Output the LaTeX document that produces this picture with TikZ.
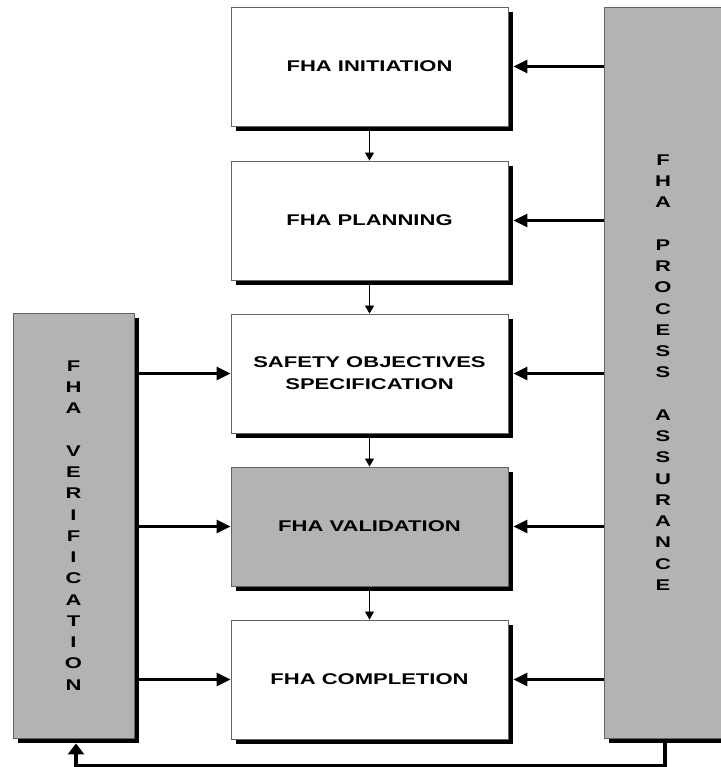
\documentclass[tikz,border=0pt]{standalone}
\usepackage{fontspec}
\setmainfont{Liberation Sans}[FakeStretch=1.42]
\usetikzlibrary{arrows.meta,shadows,calc}
\definecolor{boxgray}{RGB}{179,179,179}
\definecolor{edgegray}{RGB}{100,100,100}
\begin{document}
\begin{tikzpicture}[x=1pt,y=-1pt,
  txt/.style={font=\bfseries\fontsize{15.5}{22}\selectfont, align=center, text=black},
  procbox/.style={txt, draw=edgegray, line width=0.9pt, fill=white, minimum width=277pt, minimum height=119pt, inner sep=0pt,
     drop shadow={shadow xshift=5pt, shadow yshift=-5pt, fill=black, opacity=1}},
  sidebox/.style={txt, font=\bfseries\fontsize{15.5}{21.25}\selectfont, draw=edgegray, line width=0.9pt, fill=boxgray, inner sep=0pt,
     drop shadow={shadow xshift=5pt, shadow yshift=-5pt, fill=black, opacity=1}},
  smallarrow/.style={draw=black, line width=0.8pt, -{Triangle[length=8pt,width=9pt]}},
  bigarrow/.style={draw=black, line width=3pt, -{Triangle[length=14pt,width=13pt]}},
  fbarrow/.style={draw=black, line width=3.5pt, -{Triangle[length=11pt,width=16pt]}}
]
\useasboundingbox (0,0) rectangle (720,767);

\node[sidebox, minimum width=118pt, minimum height=731pt] (pa) at (663,372.5)
  {F\\H\\A\\~\\P\\R\\O\\C\\E\\S\\S\\~\\A\\S\\S\\U\\R\\A\\N\\C\\E};
\node[sidebox, minimum width=121pt, minimum height=425pt] (pv) at (73.5,525.5)
  {F\\H\\A\\~\\V\\E\\R\\I\\F\\I\\C\\A\\T\\I\\O\\N};

\node[procbox] (b1) at (369.5,66.5) {FHA INITIATION};
\node[procbox] (b2) at (369.5,220.5) {FHA PLANNING};
\node[procbox] (b3) at (369.5,373.5) {SAFETY OBJECTIVES\\SPECIFICATION};
\node[procbox, fill=boxgray] (b4) at (369.5,526.5) {FHA VALIDATION};
\node[procbox] (b5) at (369.5,679.5) {FHA COMPLETION};

\draw[smallarrow] ([yshift=-5pt]b1.south) -- (b2.north);
\draw[smallarrow] ([yshift=-5pt]b2.south) -- (b3.north);
\draw[smallarrow] ([yshift=-5pt]b3.south) -- (b4.north);
\draw[smallarrow] ([yshift=-5pt]b4.south) -- (b5.north);

\foreach \b in {b1,b2,b3,b4,b5}
  \draw[bigarrow] (pa.west |- \b.east) -- ([xshift=5pt]\b.east);
\foreach \b in {b3,b4,b5}
  \draw[bigarrow] ([xshift=5pt]pv.east |- \b.west) -- (\b.west);

\coordinate (fb) at ($(pa.south)+(2,27)$);
\draw[fbarrow] ([xshift=2pt,yshift=-5pt]pa.south) -- (fb) -| ([xshift=2.5pt,yshift=-5pt]pv.south);
\end{tikzpicture}
\end{document}
